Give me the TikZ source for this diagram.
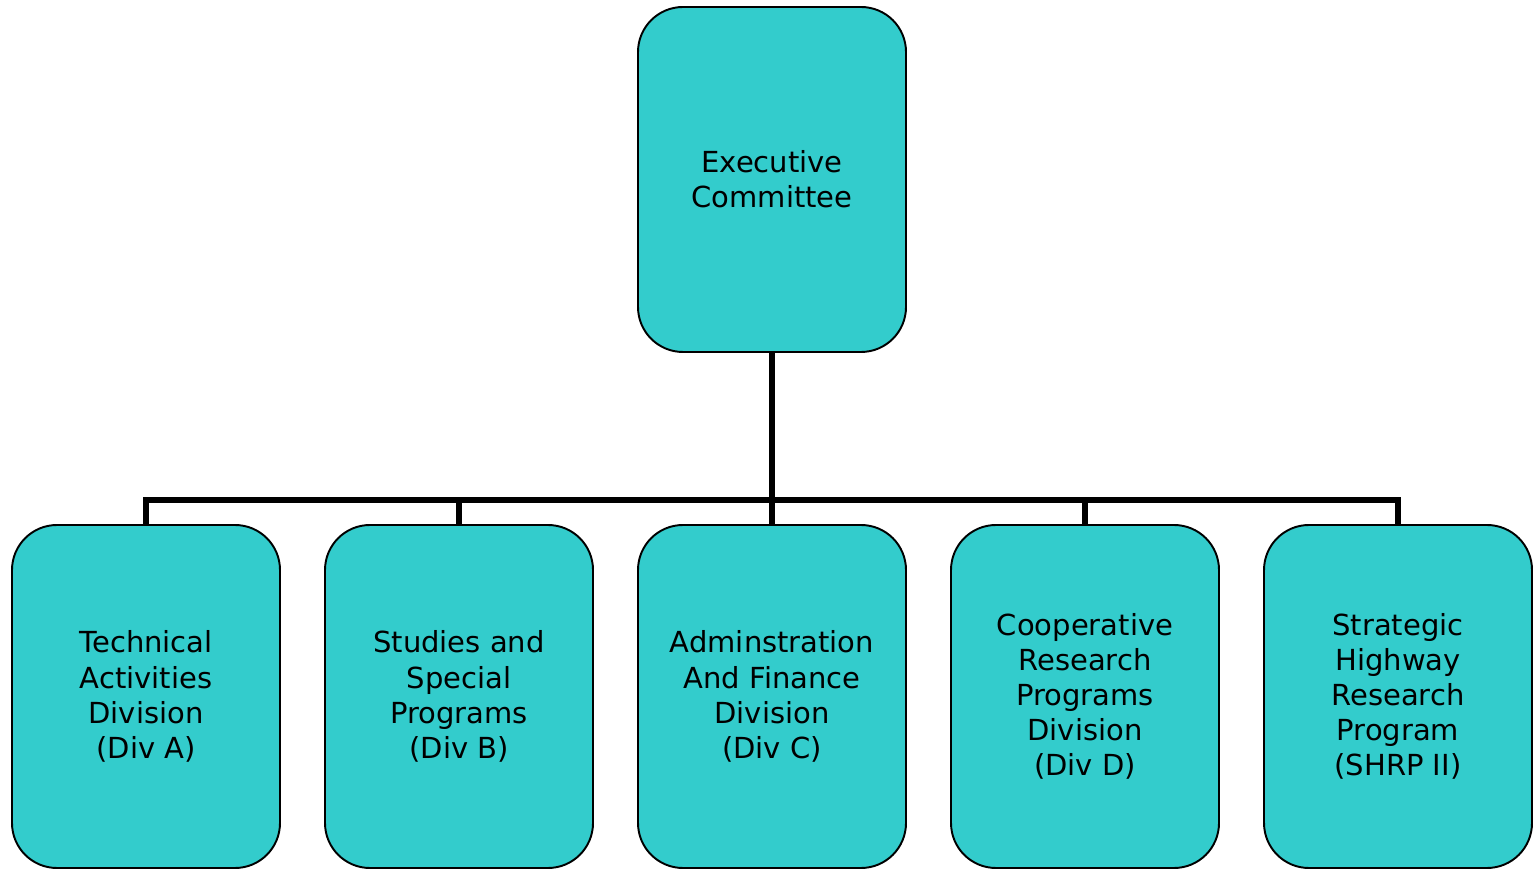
\documentclass[tikz,border=0pt]{standalone}
\usepackage{fontspec}
\setmainfont{DejaVu Sans}
\usepackage{tikz}
\usetikzlibrary{positioning}
\definecolor{boxteal}{RGB}{51,204,204}

\begin{document}
\begin{tikzpicture}[
    unitbox/.style={draw=black, line width=1.1pt, fill=boxteal, rounded corners=0.9cm,
        minimum width=5.36cm, align=center, font=\fontsize{16.5}{20}\selectfont},
    topbox/.style={unitbox, minimum height=6.9cm},
    divbox/.style={unitbox, minimum height=6.86cm},
    link/.style={line width=3.5pt}]
% Canvas
\useasboundingbox (0,0) rectangle (30.78,17.38);

% Draw top box
\node[topbox] (exec) at (15.44,13.79) {Executive\\Committee};

% Draw division boxes
\node[divbox] (diva) at (2.92,3.45) {Technical\\Activities\\Division\\(Div A)};
\node[divbox] (divb) at (9.18,3.45) {Studies and\\Special\\Programs\\(Div B)};
\node[divbox] (divc) at (15.44,3.45) {Adminstration\\And Finance\\Division\\(Div C)};
\node[divbox] (divd) at (21.70,3.45) {Cooperative\\Research\\Programs\\Division\\(Div D)};
\node[divbox] (shrp) at (27.96,3.45) {Strategic\\Highway\\Research\\Program\\(SHRP II)};

% Draw connectors
\coordinate (bar) at (15.44,7.38);
\draw[link] (exec.south) -- (divc.north);
\draw[link] (diva.north) |- (bar) -| (shrp.north);
\draw[link] (divb.north) -- (divb.north |- bar);
\draw[link] (divd.north) -- (divd.north |- bar);
\end{tikzpicture}
\end{document}
